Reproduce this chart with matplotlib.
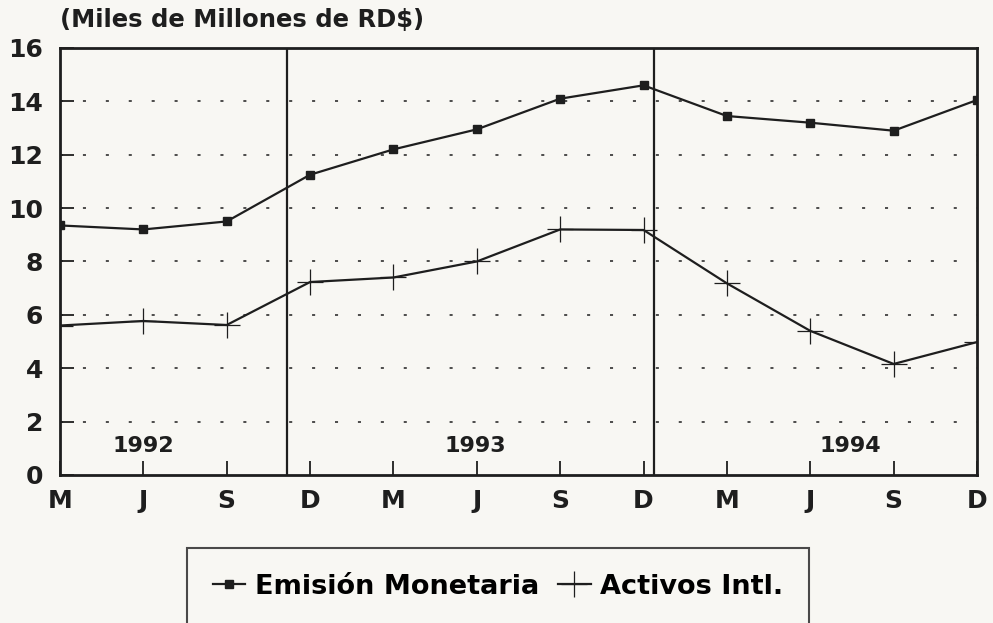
import matplotlib.pyplot as plt

plt.rcParams['font.family'] = ['DejaVu Sans']

# datos
meses = ['M', 'J', 'S', 'D', 'M', 'J', 'S', 'D', 'M', 'J', 'S', 'D']
emision = [9.35, 9.2, 9.5, 11.25, 12.2, 12.95, 14.1, 14.6, 13.45, 13.2, 12.9, 14.05]
activos = [5.6, 5.77, 5.62, 7.23, 7.4, 8.0, 9.2, 9.18, 7.18, 5.4, 4.16, 4.98]
anios = ['1992', '1993', '1994']
anio_x = [1.0, 4.98, 9.48]
separadores = [2.72, 7.13]

x = list(range(len(meses)))
ink = '#1e1e1e'
fondo = '#f8f7f3'

fig = plt.figure(figsize=(9.93, 6.23), dpi=100, facecolor=fondo)
ax = fig.add_axes([0.0604, 0.2376, 0.9235, 0.6854])
ax.set_facecolor(fondo)

for yv in range(2, 16, 2):
    ax.axhline(yv, color=ink, lw=1.1, ls=(0, (2, 13)), zorder=1)

for s in separadores:
    ax.axvline(s, color=ink, lw=1.6, zorder=2)

l1, = ax.plot(x, emision, color=ink, lw=1.6, marker='s', ms=6, zorder=3,
              label='Emisión Monetaria')
l2, = ax.plot(x, activos, color=ink, lw=1.6, marker='+', ms=19, mew=0.9, zorder=3,
              label='Activos Intl.')

for t, xa in zip(anios, anio_x):
    ax.text(xa, 1.1, t, ha='center', va='center', fontsize=16, fontweight='bold', color=ink)

ax.set_xlim(0, 11)
ax.set_ylim(0, 16)
ax.set_yticks(range(0, 17, 2))
ax.set_xticks(x)
ax.set_xticklabels(meses)
ax.tick_params(axis='both', direction='in', length=10, width=1.3, colors=ink,
               labelsize=18)
ax.tick_params(axis='y', pad=12)
ax.tick_params(axis='x', pad=10)
for lab in ax.get_xticklabels() + ax.get_yticklabels():
    lab.set_fontweight('bold')
for sp in ax.spines.values():
    sp.set_color(ink)
    sp.set_linewidth(2)

fig.text(0.0604, 0.968, '(Miles de Millones de RD$)', fontsize=17.5, fontweight='bold',
         color=ink, ha='left', va='center')

leg = fig.legend(handles=[l1, l2], loc='upper center', bbox_to_anchor=(498 / 993, 1 - 548 / 623),
                 borderaxespad=0, ncol=2, frameon=True, fancybox=False, edgecolor=ink,
                 facecolor=fondo, prop={'size': 19.5, 'weight': 'bold'}, handlelength=1.2,
                 handletextpad=0.35, columnspacing=0.7, borderpad=0.95)
leg.get_frame().set_linewidth(1.5)

fig.savefig('out.png', dpi=100, facecolor=fig.get_facecolor())
